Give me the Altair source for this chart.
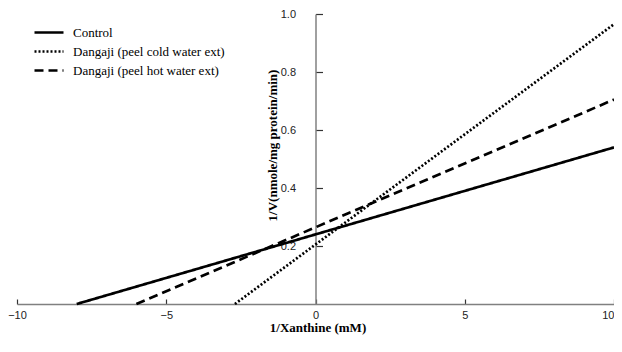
import altair as alt
import pandas as pd

# Data: each fitted line from its x-intercept to x = 10
series = ["Control", "Dangaji (peel cold water ext)", "Dangaji (peel hot water ext)"]
x_start = [-8.0, -2.7, -6.0]
y_start = [0.0, 0.0, 0.0]
x_end = [10.0, 10.0, 10.0]
y_end = [0.54, 0.965, 0.705]

x_ticks = [-10, -5, 0, 5, 10]
y_ticks = [0.2, 0.4, 0.6, 0.8, 1.0]

rows = []
for s, xa, ya, xb, yb in zip(series, x_start, y_start, x_end, y_end):
    rows.append({"series": s, "x": xa, "y": ya})
    rows.append({"series": s, "x": xb, "y": yb})
df = pd.DataFrame(rows)

W, H = 597, 290
label_font = "Liberation Sans Narrow, Arial Narrow, Liberation Sans, Arial"
serif = "Liberation Serif, Times New Roman, serif"

chart = alt.Chart(df).mark_line(strokeWidth=2.7, color="black").encode(
    x=alt.X(
        "x:Q",
        scale=alt.Scale(domain=[-10, 10], nice=False, zero=False),
        axis=alt.Axis(
            orient="top", offset=-H, values=x_ticks, format="d",
            tickSize=5, labelPadding=-10.5, labelBaseline="top",
            labelAlign=alt.expr("datum.value == 10 ? 'right' : 'center'"),
            labelFlush=False, labelOverlap=False, labelBound=False,
            grid=False,
            title="1/Xanthine (mM)", titleX=W / 2 + 2, titleY=23,
            titleAlign="center", titleBaseline="middle", titleAngle=0,
        ),
    ),
    y=alt.Y(
        "y:Q",
        scale=alt.Scale(domain=[0, 1], nice=False),
        axis=alt.Axis(
            orient="right", offset=-(W / 2), values=y_ticks, format=".1f",
            tickSize=7, labelPadding=-27, labelAlign="right", labelBaseline="middle",
            labelFlush=False, labelOverlap=False, labelBound=False,
            grid=False,
            title="1/V(nmole/mg  protein/min)", titleX=-43, titleY=131,
            titleAngle=270, titleAlign="center", titleBaseline="middle",
        ),
    ),
    strokeDash=alt.StrokeDash(
        "series:N",
        scale=alt.Scale(domain=series, range=[[1, 0], [2, 2], [9, 5]]),
        legend=alt.Legend(
            title=None, orient="none", legendX=16, legendY=10,
            symbolType="stroke", symbolSize=841, symbolStrokeWidth=2.7,
            symbolStrokeColor="black", clipHeight=17, rowPadding=2,
            labelOffset=8, labelFont=serif, labelFontSize=13, labelColor="black",
            padding=0,
        ),
    ),
    detail="series:N",
).properties(
    width=W,
    height=H,
    autosize=alt.AutoSizeParams(type="none"),
    padding={"left": 9, "top": 6, "right": 0, "bottom": 31},
).configure_view(
    stroke=None
).configure_axis(
    domainColor="#808080", domainWidth=1.5,
    tickColor="#333333", tickWidth=1.2,
    labelFont=label_font, labelFontSize=11, labelColor="#222222",
    titleFont=serif, titleFontSize=13, titleFontWeight="bold", titleColor="black",
).configure_legend(
    labelFont=serif, labelFontSize=13, labelColor="black",
)

chart.save("out.html", embed_options={"renderer": "svg", "actions": False})
